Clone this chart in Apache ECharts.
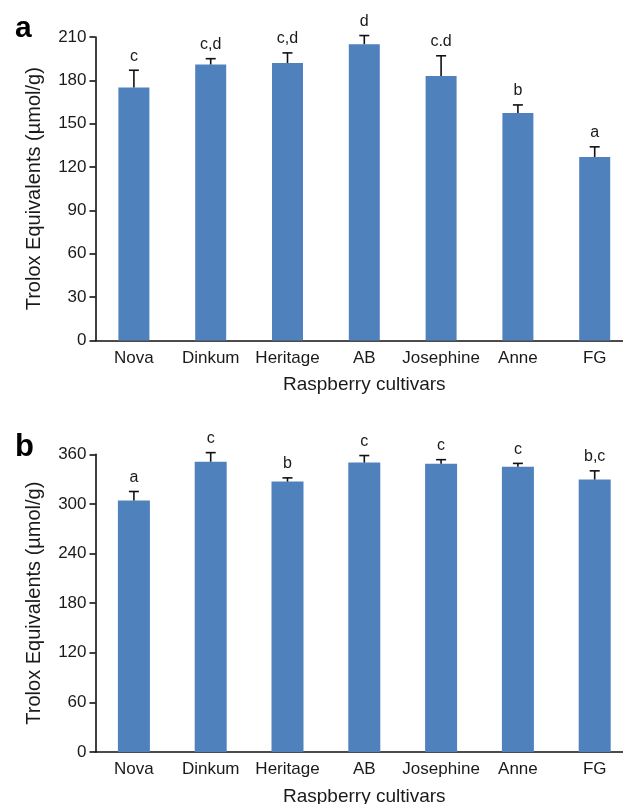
<!DOCTYPE html>
<html>
<head>
<meta charset="utf-8">
<script src="https://cdn.jsdelivr.net/npm/echarts@6/dist/echarts.min.js"></script>
<style>
html,body{margin:0;padding:0;background:#fff;}
#chart{width:623px;height:804px;}
</style>
</head>
<body>
<div id="chart"></div>
<script>
// ---- data ----
const categories = ['Nova', 'Dinkum', 'Heritage', 'AB', 'Josephine', 'Anne', 'FG'];

const valuesA = [175, 191, 192, 205, 183, 157.5, 127];
const errorsA = [12, 4, 7, 6, 14, 5.5, 7];
const lettersA = ['c', 'c,d', 'c,d', 'd', 'c.d', 'b', 'a'];

const valuesB = [304, 351, 327, 350, 348.5, 345, 329.5];
const errorsB = [11, 11, 4.5, 8.5, 5, 4, 10.5];
const lettersB = ['a', 'c', 'b', 'c', 'c', 'c', 'b,c'];

const ticksA = { min: 0, max: 210, interval: 30 };
const ticksB = { min: 0, max: 360, interval: 60 };

const yTitle = 'Trolox Equivalents (\u00B5mol/g)';
const xTitle = 'Raspberry cultivars';

// ---- chart ----
const FONT = '"Liberation Sans", Arial, sans-serif';
const BAR_COLOR = '#4F81BD';
const chart = echarts.init(document.getElementById('chart'), null, { renderer: 'canvas' });

function errSeries(gridIdx, values, errors, letters) {
  return {
    type: 'custom',
    xAxisIndex: gridIdx,
    yAxisIndex: gridIdx,
    clip: false,
    z: 5,
    data: values.map((v, i) => [i, v, errors[i]]),
    renderItem: function (params, api) {
      const x = api.value(0), v = api.value(1), e = api.value(2);
      const base = api.coord([x, v]);
      const top = api.coord([x, v + e]);
      const hw = 5;
      return {
        type: 'group',
        children: [
          { type: 'line', shape: { x1: base[0], y1: base[1], x2: top[0], y2: top[1] },
            style: { stroke: '#111', lineWidth: 1.6 } },
          { type: 'line', shape: { x1: top[0] - hw, y1: top[1], x2: top[0] + hw, y2: top[1] },
            style: { stroke: '#111', lineWidth: 1.6 } },
          { type: 'text', x: top[0], y: top[1] - 6,
            style: { text: letters[params.dataIndex], textAlign: 'center', textVerticalAlign: 'bottom',
                     font: '16px ' + FONT, fill: '#1a1a1a' } }
        ]
      };
    }
  };
}

function xAxisCfg(gridIdx) {
  return {
    type: 'category',
    gridIndex: gridIdx,
    data: categories,
    axisLine: { lineStyle: { color: '#111', width: 1.6 } },
    axisTick: { show: false },
    axisLabel: { color: '#1a1a1a', fontSize: 17, fontFamily: FONT, margin: 9, interval: 0 },
    name: xTitle,
    nameLocation: 'middle',
    nameGap: 35,
    nameTextStyle: { color: '#1a1a1a', fontSize: 19, fontFamily: FONT }
  };
}

function yAxisCfg(gridIdx, t) {
  return {
    type: 'value',
    gridIndex: gridIdx,
    min: t.min, max: t.max, interval: t.interval,
    axisLine: { show: true, lineStyle: { color: '#111', width: 1.6 } },
    axisTick: { show: true, length: 6, lineStyle: { color: '#111', width: 1.6 } },
    axisLabel: { color: '#1a1a1a', fontSize: 17, fontFamily: FONT, margin: 9 },
    splitLine: { show: false },
    name: yTitle,
    nameLocation: 'middle',
    nameGap: 51,
    nameRotate: 90,
    nameTextStyle: { color: '#1a1a1a', fontSize: 20, fontFamily: FONT }
  };
}

const option = {
  backgroundColor: '#fff',
  animation: false,
  title: [
    { text: 'a', left: 10, top: 9, textStyle: { fontSize: 30, fontWeight: 'bold', color: '#000', fontFamily: FONT } },
    { text: 'b', left: 10, top: 427, textStyle: { fontSize: 31, fontWeight: 'bold', color: '#000', fontFamily: FONT } }
  ],
  grid: [
    { left: 95.5, top: 37, width: 537.6, height: 303.5, outerBoundsMode: 'none', containLabel: false },
    { left: 95.5, top: 454.3, width: 537.6, height: 297.7, outerBoundsMode: 'none', containLabel: false }
  ],
  xAxis: [xAxisCfg(0), xAxisCfg(1)],
  yAxis: [yAxisCfg(0, ticksA), yAxisCfg(1, ticksB)],
  series: [
    { type: 'bar', xAxisIndex: 0, yAxisIndex: 0, data: valuesA, barWidth: 31,
      itemStyle: { color: BAR_COLOR } },
    errSeries(0, valuesA, errorsA, lettersA),
    { type: 'bar', xAxisIndex: 1, yAxisIndex: 1, data: valuesB, barWidth: 32,
      itemStyle: { color: BAR_COLOR } },
    errSeries(1, valuesB, errorsB, lettersB)
  ]
};
chart.setOption(option);
</script>
</body>
</html>
